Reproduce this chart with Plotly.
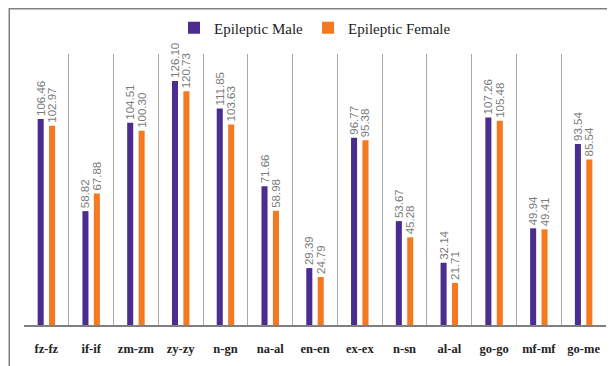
import plotly.graph_objects as go

categories = ["fz-fz", "if-if", "zm-zm", "zy-zy", "n-gn", "na-al", "en-en",
              "ex-ex", "n-sn", "al-al", "go-go", "mf-mf", "go-me"]
male = [106.46, 58.82, 104.51, 126.10, 111.85, 71.66, 29.39,
        96.77, 53.67, 32.14, 107.26, 49.94, 93.54]
female = [102.97, 67.88, 100.30, 120.73, 103.63, 58.98, 24.79,
          95.38, 45.28, 21.71, 105.48, 49.41, 85.54]

PURPLE = "#4A2D8F"
ORANGE = "#F47920"
label_font = dict(family="Liberation Sans", size=11.5, color="#7a7a7a")
serif = "Liberation Serif"

fig = go.Figure()
for name, vals, col in [("Epileptic Male", male, PURPLE),
                        ("Epileptic Female", female, ORANGE)]:
    fig.add_trace(go.Bar(
        x=categories, y=vals, name=name,
        marker=dict(color=col, line=dict(width=0)),
        text=[f"{v:.2f}" for v in vals],
        textposition="outside", textangle=-90,
        textfont=label_font, constraintext="none",
        cliponaxis=False,
    ))

# page body has an 8px default margin, so the figure is sized to fit the window
fig.update_layout(
    width=607, height=358,
    margin=dict(l=15.5, r=9, t=46, b=41, pad=0, autoexpand=False),
    paper_bgcolor="white", plot_bgcolor="white",
    barmode="group", bargap=0.49, bargroupgap=0.47,
    showlegend=True,
    legend=dict(orientation="h", x=0.5, xanchor="center", y=1.096, yanchor="middle",
                font=dict(family=serif, size=15, color="#222"),
                itemwidth=30, tracegroupgap=0, bgcolor="rgba(0,0,0,0)"),
    xaxis=dict(
        type="category", tickson="boundaries", showgrid=True,
        gridcolor="#a8a8a8", gridwidth=1,
        showline=True, linecolor="#7f7f7f", linewidth=2,
        ticks="", ticklabelstandoff=11, tickangle=0,
        tickfont=dict(family=serif, size=12.5, color="#222", weight="bold"),
        range=[-0.5, 12.5],
    ),
    yaxis=dict(range=[0, 140], visible=False, showgrid=False, zeroline=False),
    shapes=[dict(type="rect", xref="paper", yref="paper",
                 x0=-0.0253, x1=1.2, y0=-0.4, y1=1.167,
                 line=dict(color="#808080", width=1.5), layer="below")],
)

fig.write_html("out.html")
